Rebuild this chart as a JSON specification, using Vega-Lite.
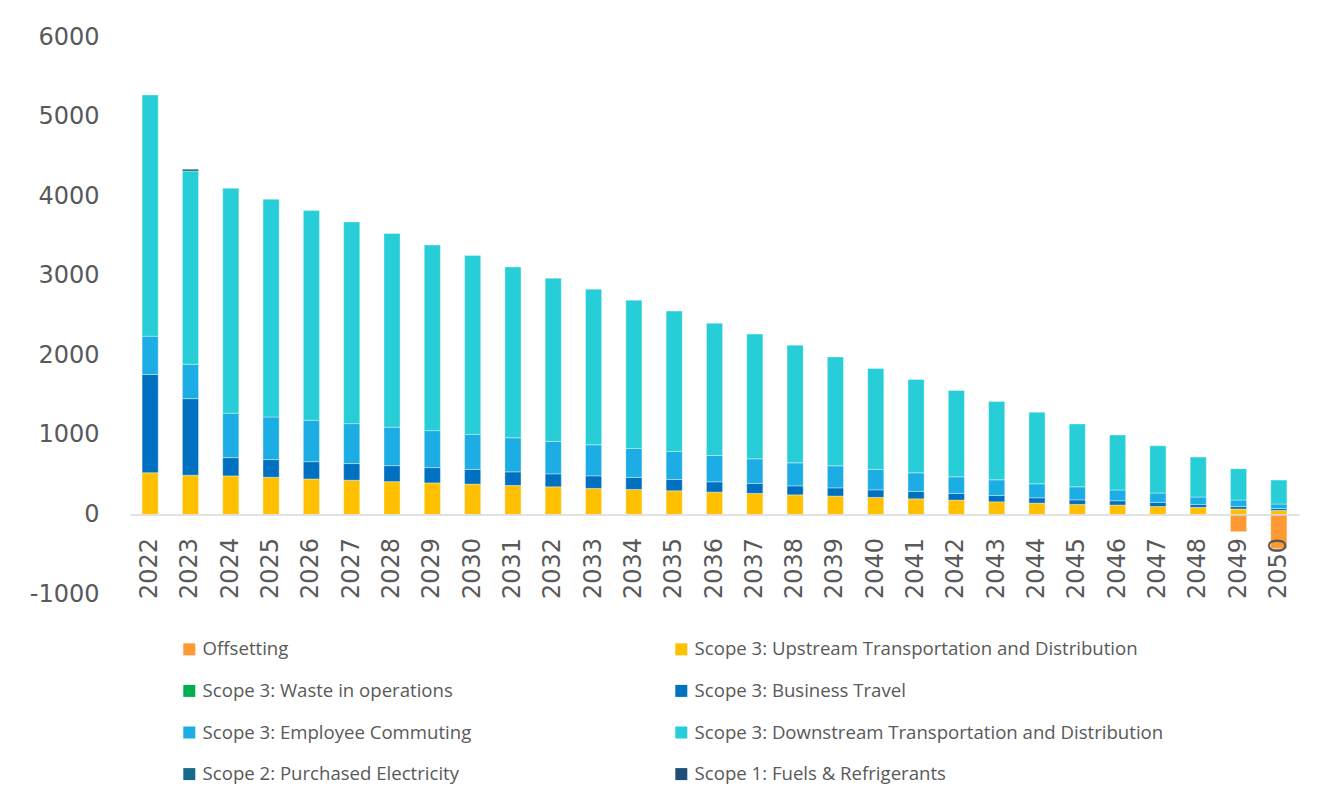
{
  "$schema": "https://vega.github.io/schema/vega-lite/v6.json",
  "autosize": {"type": "none"},
  "width": 1169,
  "height": 557,
  "padding": {"left": 130, "top": 37, "right": 37, "bottom": 211},
  "background": "white",
  "config": {"view": {"stroke": null}},
  "data": {
    "values": [
      {"year": "2022", "series": "Scope 3: Upstream Transportation and Distribution", "value": 524},
      {"year": "2022", "series": "Scope 3: Business Travel", "value": 1235},
      {"year": "2022", "series": "Scope 3: Employee Commuting", "value": 481},
      {"year": "2022", "series": "Scope 3: Downstream Transportation and Distribution", "value": 3032},
      {"year": "2023", "series": "Scope 3: Upstream Transportation and Distribution", "value": 493},
      {"year": "2023", "series": "Scope 3: Business Travel", "value": 962},
      {"year": "2023", "series": "Scope 3: Employee Commuting", "value": 432},
      {"year": "2023", "series": "Scope 3: Downstream Transportation and Distribution", "value": 2429},
      {"year": "2023", "series": "Scope 1: Fuels & Refrigerants", "value": 22},
      {"year": "2024", "series": "Scope 3: Upstream Transportation and Distribution", "value": 484},
      {"year": "2024", "series": "Scope 3: Business Travel", "value": 230},
      {"year": "2024", "series": "Scope 3: Employee Commuting", "value": 558},
      {"year": "2024", "series": "Scope 3: Downstream Transportation and Distribution", "value": 2827},
      {"year": "2025", "series": "Scope 3: Upstream Transportation and Distribution", "value": 467},
      {"year": "2025", "series": "Scope 3: Business Travel", "value": 222},
      {"year": "2025", "series": "Scope 3: Employee Commuting", "value": 536},
      {"year": "2025", "series": "Scope 3: Downstream Transportation and Distribution", "value": 2736},
      {"year": "2026", "series": "Scope 3: Upstream Transportation and Distribution", "value": 446},
      {"year": "2026", "series": "Scope 3: Business Travel", "value": 217},
      {"year": "2026", "series": "Scope 3: Employee Commuting", "value": 520},
      {"year": "2026", "series": "Scope 3: Downstream Transportation and Distribution", "value": 2635},
      {"year": "2027", "series": "Scope 3: Upstream Transportation and Distribution", "value": 430},
      {"year": "2027", "series": "Scope 3: Business Travel", "value": 209},
      {"year": "2027", "series": "Scope 3: Employee Commuting", "value": 502},
      {"year": "2027", "series": "Scope 3: Downstream Transportation and Distribution", "value": 2535},
      {"year": "2028", "series": "Scope 3: Upstream Transportation and Distribution", "value": 412},
      {"year": "2028", "series": "Scope 3: Business Travel", "value": 201},
      {"year": "2028", "series": "Scope 3: Employee Commuting", "value": 483},
      {"year": "2028", "series": "Scope 3: Downstream Transportation and Distribution", "value": 2435},
      {"year": "2029", "series": "Scope 3: Upstream Transportation and Distribution", "value": 396},
      {"year": "2029", "series": "Scope 3: Business Travel", "value": 192},
      {"year": "2029", "series": "Scope 3: Employee Commuting", "value": 465},
      {"year": "2029", "series": "Scope 3: Downstream Transportation and Distribution", "value": 2334},
      {"year": "2030", "series": "Scope 3: Upstream Transportation and Distribution", "value": 381},
      {"year": "2030", "series": "Scope 3: Business Travel", "value": 185},
      {"year": "2030", "series": "Scope 3: Employee Commuting", "value": 440},
      {"year": "2030", "series": "Scope 3: Downstream Transportation and Distribution", "value": 2249},
      {"year": "2031", "series": "Scope 3: Upstream Transportation and Distribution", "value": 364},
      {"year": "2031", "series": "Scope 3: Business Travel", "value": 171},
      {"year": "2031", "series": "Scope 3: Employee Commuting", "value": 428},
      {"year": "2031", "series": "Scope 3: Downstream Transportation and Distribution", "value": 2148},
      {"year": "2032", "series": "Scope 3: Upstream Transportation and Distribution", "value": 347},
      {"year": "2032", "series": "Scope 3: Business Travel", "value": 163},
      {"year": "2032", "series": "Scope 3: Employee Commuting", "value": 407},
      {"year": "2032", "series": "Scope 3: Downstream Transportation and Distribution", "value": 2052},
      {"year": "2033", "series": "Scope 3: Upstream Transportation and Distribution", "value": 327},
      {"year": "2033", "series": "Scope 3: Business Travel", "value": 158},
      {"year": "2033", "series": "Scope 3: Employee Commuting", "value": 390},
      {"year": "2033", "series": "Scope 3: Downstream Transportation and Distribution", "value": 1956},
      {"year": "2034", "series": "Scope 3: Upstream Transportation and Distribution", "value": 314},
      {"year": "2034", "series": "Scope 3: Business Travel", "value": 151},
      {"year": "2034", "series": "Scope 3: Employee Commuting", "value": 364},
      {"year": "2034", "series": "Scope 3: Downstream Transportation and Distribution", "value": 1864},
      {"year": "2035", "series": "Scope 3: Upstream Transportation and Distribution", "value": 297},
      {"year": "2035", "series": "Scope 3: Business Travel", "value": 143},
      {"year": "2035", "series": "Scope 3: Employee Commuting", "value": 352},
      {"year": "2035", "series": "Scope 3: Downstream Transportation and Distribution", "value": 1763},
      {"year": "2036", "series": "Scope 3: Upstream Transportation and Distribution", "value": 280},
      {"year": "2036", "series": "Scope 3: Business Travel", "value": 130},
      {"year": "2036", "series": "Scope 3: Employee Commuting", "value": 331},
      {"year": "2036", "series": "Scope 3: Downstream Transportation and Distribution", "value": 1663},
      {"year": "2037", "series": "Scope 3: Upstream Transportation and Distribution", "value": 264},
      {"year": "2037", "series": "Scope 3: Business Travel", "value": 126},
      {"year": "2037", "series": "Scope 3: Employee Commuting", "value": 309},
      {"year": "2037", "series": "Scope 3: Downstream Transportation and Distribution", "value": 1567},
      {"year": "2038", "series": "Scope 3: Upstream Transportation and Distribution", "value": 246},
      {"year": "2038", "series": "Scope 3: Business Travel", "value": 113},
      {"year": "2038", "series": "Scope 3: Employee Commuting", "value": 289},
      {"year": "2038", "series": "Scope 3: Downstream Transportation and Distribution", "value": 1479},
      {"year": "2039", "series": "Scope 3: Upstream Transportation and Distribution", "value": 230},
      {"year": "2039", "series": "Scope 3: Business Travel", "value": 104},
      {"year": "2039", "series": "Scope 3: Employee Commuting", "value": 277},
      {"year": "2039", "series": "Scope 3: Downstream Transportation and Distribution", "value": 1369},
      {"year": "2040", "series": "Scope 3: Upstream Transportation and Distribution", "value": 214},
      {"year": "2040", "series": "Scope 3: Business Travel", "value": 95},
      {"year": "2040", "series": "Scope 3: Employee Commuting", "value": 257},
      {"year": "2040", "series": "Scope 3: Downstream Transportation and Distribution", "value": 1269},
      {"year": "2041", "series": "Scope 3: Upstream Transportation and Distribution", "value": 196},
      {"year": "2041", "series": "Scope 3: Business Travel", "value": 93},
      {"year": "2041", "series": "Scope 3: Employee Commuting", "value": 234},
      {"year": "2041", "series": "Scope 3: Downstream Transportation and Distribution", "value": 1173},
      {"year": "2042", "series": "Scope 3: Upstream Transportation and Distribution", "value": 180},
      {"year": "2042", "series": "Scope 3: Business Travel", "value": 84},
      {"year": "2042", "series": "Scope 3: Employee Commuting", "value": 209},
      {"year": "2042", "series": "Scope 3: Downstream Transportation and Distribution", "value": 1085},
      {"year": "2043", "series": "Scope 3: Upstream Transportation and Distribution", "value": 158},
      {"year": "2043", "series": "Scope 3: Business Travel", "value": 81},
      {"year": "2043", "series": "Scope 3: Employee Commuting", "value": 196},
      {"year": "2043", "series": "Scope 3: Downstream Transportation and Distribution", "value": 985},
      {"year": "2044", "series": "Scope 3: Upstream Transportation and Distribution", "value": 142},
      {"year": "2044", "series": "Scope 3: Business Travel", "value": 67},
      {"year": "2044", "series": "Scope 3: Employee Commuting", "value": 176},
      {"year": "2044", "series": "Scope 3: Downstream Transportation and Distribution", "value": 899},
      {"year": "2045", "series": "Scope 3: Upstream Transportation and Distribution", "value": 126},
      {"year": "2045", "series": "Scope 3: Business Travel", "value": 57},
      {"year": "2045", "series": "Scope 3: Employee Commuting", "value": 164},
      {"year": "2045", "series": "Scope 3: Downstream Transportation and Distribution", "value": 790},
      {"year": "2046", "series": "Scope 3: Upstream Transportation and Distribution", "value": 118},
      {"year": "2046", "series": "Scope 3: Business Travel", "value": 54},
      {"year": "2046", "series": "Scope 3: Employee Commuting", "value": 135},
      {"year": "2046", "series": "Scope 3: Downstream Transportation and Distribution", "value": 691},
      {"year": "2047", "series": "Scope 3: Upstream Transportation and Distribution", "value": 100},
      {"year": "2047", "series": "Scope 3: Business Travel", "value": 51},
      {"year": "2047", "series": "Scope 3: Employee Commuting", "value": 118},
      {"year": "2047", "series": "Scope 3: Downstream Transportation and Distribution", "value": 594},
      {"year": "2048", "series": "Scope 3: Upstream Transportation and Distribution", "value": 88},
      {"year": "2048", "series": "Scope 3: Business Travel", "value": 38},
      {"year": "2048", "series": "Scope 3: Employee Commuting", "value": 93},
      {"year": "2048", "series": "Scope 3: Downstream Transportation and Distribution", "value": 502},
      {"year": "2049", "series": "Offsetting", "value": -217},
      {"year": "2049", "series": "Scope 3: Upstream Transportation and Distribution", "value": 68},
      {"year": "2049", "series": "Scope 3: Business Travel", "value": 32},
      {"year": "2049", "series": "Scope 3: Employee Commuting", "value": 81},
      {"year": "2049", "series": "Scope 3: Downstream Transportation and Distribution", "value": 393},
      {"year": "2050", "series": "Offsetting", "value": -431},
      {"year": "2050", "series": "Scope 3: Upstream Transportation and Distribution", "value": 50},
      {"year": "2050", "series": "Scope 3: Business Travel", "value": 25},
      {"year": "2050", "series": "Scope 3: Employee Commuting", "value": 56},
      {"year": "2050", "series": "Scope 3: Downstream Transportation and Distribution", "value": 301}
    ]
  },
  "transform": [
    {
      "calculate": "indexof(['Offsetting', 'Scope 3: Upstream Transportation and Distribution', 'Scope 3: Waste in operations', 'Scope 3: Business Travel', 'Scope 3: Employee Commuting', 'Scope 3: Downstream Transportation and Distribution', 'Scope 2: Purchased Electricity', 'Scope 1: Fuels & Refrigerants'], datum.series)",
      "as": "stack_order"
    }
  ],
  "mark": {"type": "bar", "stroke": "white", "strokeWidth": 0.6, "strokeOpacity": 0.6},
  "encoding": {
    "x": {
      "field": "year",
      "type": "ordinal",
      "scale": {"paddingInner": 0.6, "paddingOuter": 0.3},
      "axis": {
        "title": null,
        "labelAngle": -90,
        "labelFont": "DejaVu Sans",
        "labelFontSize": 24,
        "labelColor": "#595959",
        "labelPadding": 23,
        "labelOverlap": false,
        "ticks": false,
        "domainColor": "#d9d9d9",
        "domainWidth": 1.5,
        "offset": -79.6,
        "zindex": 1
      }
    },
    "y": {
      "field": "value",
      "type": "quantitative",
      "stack": "zero",
      "scale": {"domain": [-1000, 6000], "nice": false},
      "axis": {
        "title": null,
        "values": [-1000, 0, 1000, 2000, 3000, 4000, 5000, 6000],
        "labelExpr": "datum.value < 0 ? '-' + abs(datum.value) : '' + datum.value",
        "grid": false,
        "domain": false,
        "ticks": false,
        "labelFont": "DejaVu Sans",
        "labelFontSize": 24,
        "labelColor": "#595959",
        "labelPadding": 31
      }
    },
    "color": {
      "field": "series",
      "type": "nominal",
      "scale": {
        "domain": [
          "Offsetting",
          "Scope 3: Waste in operations",
          "Scope 3: Employee Commuting",
          "Scope 2: Purchased Electricity",
          "Scope 3: Upstream Transportation and Distribution",
          "Scope 3: Business Travel",
          "Scope 3: Downstream Transportation and Distribution",
          "Scope 1: Fuels & Refrigerants"
        ],
        "range": ["#FF9933", "#00B050", "#1CADE4", "#156A8A", "#FFC000", "#0070C0", "#27CED7", "#1F4E79"]
      },
      "legend": {
        "title": null,
        "orient": "none",
        "legendX": 50,
        "legendY": 603,
        "columns": 2,
        "gridAlign": "all",
        "columnPadding": 0,
        "rowPadding": 22.6,
        "padding": 0,
        "symbolType": "square",
        "symbolSize": 144,
        "symbolStrokeWidth": 0,
        "labelFont": "Open Sans",
        "labelFontSize": 18.6,
        "labelColor": "#595959",
        "labelOffset": 4,
        "labelLimit": 0
      }
    },
    "order": {"field": "stack_order", "type": "quantitative", "sort": "ascending"}
  }
}
